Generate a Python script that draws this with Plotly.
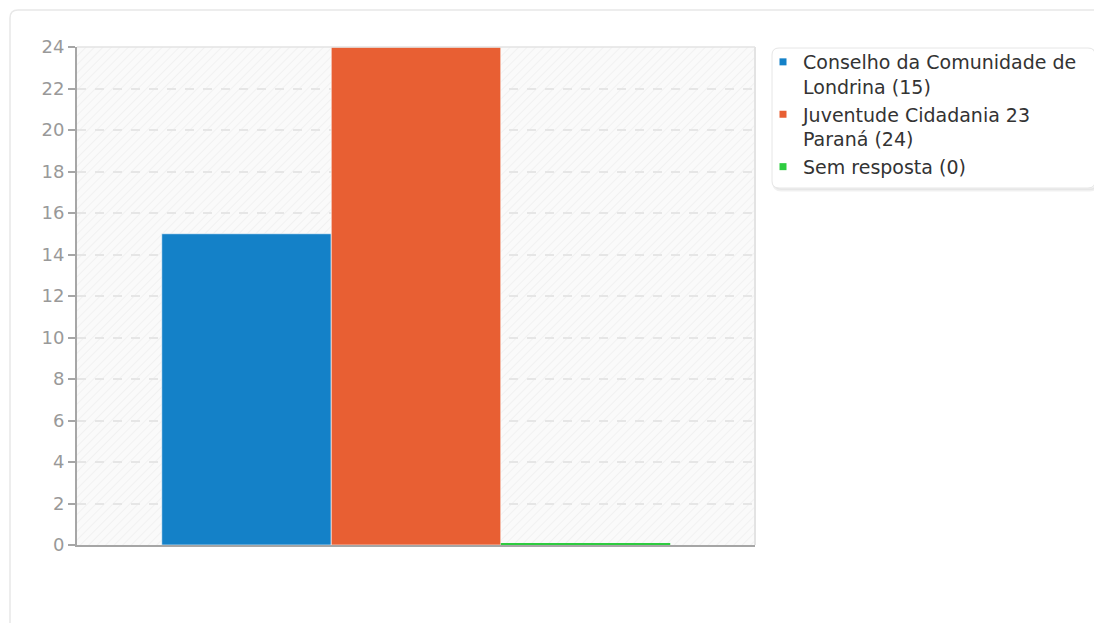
import base64
import plotly.graph_objects as go

# ---- data ----
series_names = ["Conselho da Comunidade de<br>Londrina", "Juventude Cidadania 23<br>Paraná", "Sem resposta"]
series_values = [15, 24, 0]
series_colors = ["#1481c8", "#e85f33", "#2ecc40"]
category = [""]
y_ticks = list(range(0, 25, 2))

# ---- geometry helpers (screen pixel -> paper); page body has an 8px margin ----
OFF = 8
W, H = 1102, 623
L, R, T, B = 77 - OFF, 755 - OFF, 47 - OFF, 545 - OFF
def fx(px):
    return (px - OFF - L) / (R - L)
def fy(py):
    return (B - (py - OFF)) / (B - T)

MIN_VISIBLE = 0.1  # like a minimum point length for zero bars

fig = go.Figure()
for name, v, c in zip(series_names, series_values, series_colors):
    fig.add_trace(go.Bar(
        x=category, y=[v if v > 0 else MIN_VISIBLE], name=f"{name} ({v})",
        marker=dict(color=c, line=dict(color="rgba(255,255,255,0.6)", width=1 if v > 0 else 0)),
        customdata=[v], hovertemplate="%{customdata}<extra>%{fullData.name}</extra>",
        showlegend=False,
    ))
    fig.add_trace(go.Scatter(
        x=[None], y=[None], mode="markers", name=f"{name} ({v})",
        marker=dict(symbol="square", size=7, color=c), showlegend=True,
    ))

# hatch pattern background
svg = f'''<svg xmlns="http://www.w3.org/2000/svg" width="{R-L}" height="{B-T}" viewBox="0 0 {R-L} {B-T}" preserveAspectRatio="none">
<defs><pattern id="p" width="6" height="6" patternUnits="userSpaceOnUse" patternTransform="rotate(45)">
<line x1="0" y1="0" x2="0" y2="6" stroke="#ececec" stroke-width="1.3"/></pattern></defs>
<rect width="100%" height="100%" fill="#fafafa"/>
<rect width="100%" height="100%" fill="url(#p)"/></svg>'''
src = "data:image/svg+xml;base64," + base64.b64encode(svg.encode()).decode()

def rounded(x0, y0, x1, y1, r):
    return (f"M {fx(x0+r)},{fy(y0)} L {fx(x1-r)},{fy(y0)} Q {fx(x1)},{fy(y0)} {fx(x1)},{fy(y0+r)} "
            f"L {fx(x1)},{fy(y1-r)} Q {fx(x1)},{fy(y1)} {fx(x1-r)},{fy(y1)} "
            f"L {fx(x0+r)},{fy(y1)} Q {fx(x0)},{fy(y1)} {fx(x0)},{fy(y1-r)} "
            f"L {fx(x0)},{fy(y0+r)} Q {fx(x0)},{fy(y0)} {fx(x0+r)},{fy(y0)} Z")

shapes = [
    dict(type="path", xref="paper", yref="paper", path=rounded(10, 10, 1140, 660, 8),
         line=dict(color="#e8e8e8", width=1.5), fillcolor="rgba(0,0,0,0)", layer="below"),
    # legend box shadow + box
    dict(type="path", xref="paper", yref="paper", path=rounded(774, 50, 1097, 190, 7),
         line=dict(color="rgba(0,0,0,0.06)", width=3), fillcolor="rgba(0,0,0,0.04)", layer="below"),
    dict(type="path", xref="paper", yref="paper", path=rounded(772, 48, 1095, 188, 7),
         line=dict(color="#e6e6e6", width=1), fillcolor="white", layer="below"),
    # plot border top/right
    dict(type="line", xref="paper", yref="paper", x0=0, x1=1, y0=1, y1=1,
         line=dict(color="#e3e3e3", width=1.5), layer="above"),
    dict(type="line", xref="paper", yref="paper", x0=1, x1=1, y0=0, y1=1,
         line=dict(color="#e3e3e3", width=2), layer="above"),
]

fig.update_layout(
    width=W, height=H,
    margin=dict(l=L, r=W - R, t=T, b=H - B, pad=0),
    paper_bgcolor="white", plot_bgcolor="#fafafa",
    barmode="group", bargap=0.25, bargroupgap=0,
    font=dict(family="DejaVu Sans", size=18, color="#333333"),
    showlegend=True,
    legend=dict(x=fx(763), y=fy(43), xanchor="left", yanchor="top",
                bgcolor="rgba(0,0,0,0)", borderwidth=0, valign="top",
                font=dict(family="DejaVu Sans", size=19, color="#333333"),
                tracegroupgap=0, itemclick=False),
    images=[dict(source=src, xref="paper", yref="paper", x=0, y=1, sizex=1, sizey=1,
                 sizing="stretch", layer="below", xanchor="left", yanchor="top")],
    shapes=shapes,
    xaxis=dict(showticklabels=False, showgrid=False, ticks="", showline=True,
               linecolor="#a6a6a6", linewidth=2, zeroline=False, fixedrange=True),
    yaxis=dict(range=[0, 24], tickvals=y_ticks, ticks="outside", ticklen=7,
               tickcolor="#a6a6a6", tickwidth=1.5, showline=True, linecolor="#a6a6a6",
               linewidth=2, showgrid=True, gridcolor="#e6e6e6", griddash="dash",
               gridwidth=1.5, zeroline=False, tickfont=dict(size=18, color="#999999"),
               fixedrange=True),
)

fig.write_html("out.html")
